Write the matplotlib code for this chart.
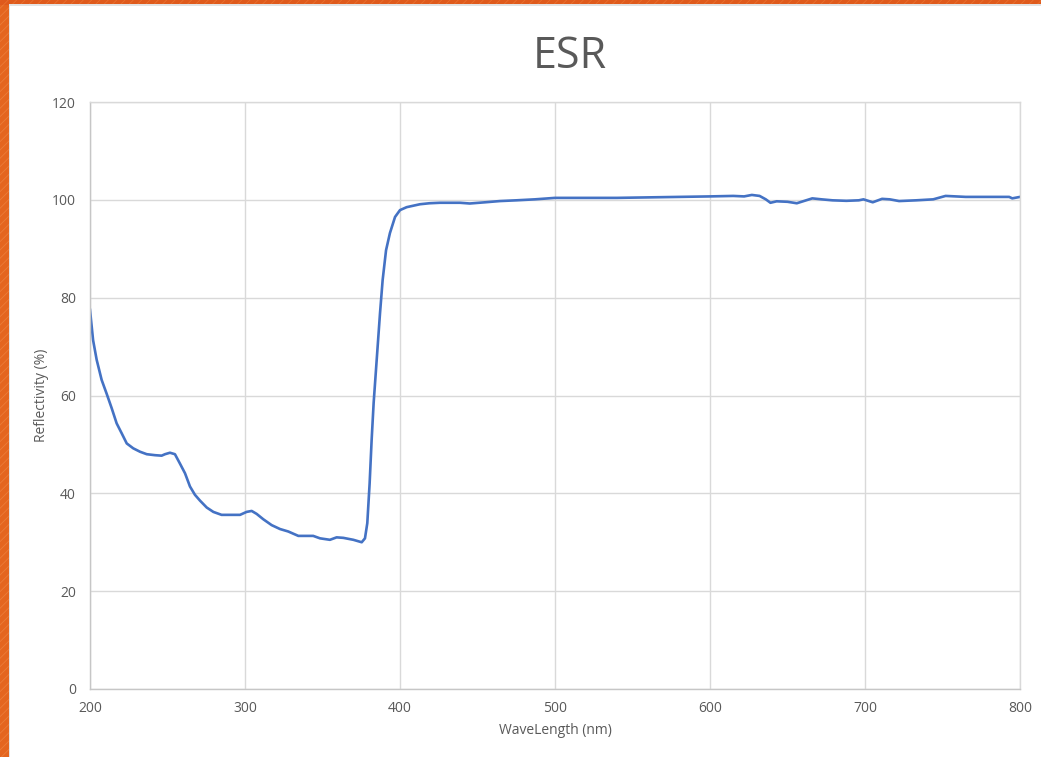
import matplotlib
matplotlib.use("Agg")
import matplotlib.pyplot as plt
from matplotlib.patches import Rectangle

# ---- data ----
wavelength = [200, 202, 204.3, 207.5, 210.7, 214, 217.2, 220.4, 223.7, 227.9,
              232.3, 236.6, 241.9, 246.2, 248.4, 251.6, 254.8, 258, 261.3, 264.5,
              267.7, 271, 275.3, 279.6, 284.9, 290.3, 296.8, 301, 304.3, 307.5,
              311.8, 317.2, 322.6, 327.9, 334.4, 344, 348.4, 354.8, 359.1, 363.4,
              369.9, 375.3, 377.4, 378.9, 380.4, 381.7, 383.0, 384.9, 387.1, 388.8,
              391, 393.5, 396.8, 400, 404.3, 412.9, 419, 425.8, 438.7, 445,
              455, 464.5, 475, 487, 500, 520, 540, 560, 580, 600,
              615, 622, 627, 632, 636, 639, 643, 650, 656, 660,
              666, 672, 679, 688, 696, 699, 702, 705, 711, 716,
              722, 733, 744, 752, 765, 780, 793, 795, 800]
reflectivity = [77.5, 71.3, 67.3, 63.2, 60.4, 57.4, 54.3, 52.3, 50.2, 49.2,
                48.5, 48.0, 47.8, 47.7, 48.0, 48.3, 48.0, 46.1, 44.1, 41.4,
                39.7, 38.5, 37.1, 36.2, 35.6, 35.6, 35.6, 36.2, 36.4, 35.8,
                34.7, 33.5, 32.7, 32.2, 31.3, 31.3, 30.8, 30.5, 31.0, 30.9,
                30.5, 30.0, 30.8, 33.9, 42.0, 50.9, 58.5, 67.0, 76.8, 83.6,
                89.7, 93.2, 96.5, 97.9, 98.5, 99.1, 99.3, 99.4, 99.4, 99.25,
                99.5, 99.75, 99.9, 100.1, 100.4, 100.4, 100.4, 100.5, 100.6, 100.7,
                100.8, 100.7, 101.0, 100.8, 100.1, 99.4, 99.7, 99.6, 99.3, 99.7,
                100.3, 100.1, 99.9, 99.8, 99.9, 100.1, 99.8, 99.5, 100.2, 100.1,
                99.75, 99.9, 100.1, 100.8, 100.6, 100.6, 100.6, 100.3, 100.6]
x_ticks = [200, 300, 400, 500, 600, 700, 800]
y_ticks = [0, 20, 40, 60, 80, 100, 120]
title = "ESR"
x_label = "WaveLength (nm)"
y_label = "Reflectivity (%)"

plt.rcParams['font.family'] = ['Open Sans', 'DejaVu Sans']
plt.rcParams['hatch.linewidth'] = 0.6

W, H = 1041, 757
fig = plt.figure(figsize=(W / 100, H / 100), dpi=100)
fig.patch.set_facecolor('white')

# orange frame (left and top)
fig.add_artist(Rectangle((0, 0), 8.5 / W, 1, transform=fig.transFigure,
                         facecolor='#e4651f', edgecolor='#ec7c38', hatch='////', lw=0))
fig.add_artist(Rectangle((0, 1 - 4.5 / H), 1, 4.5 / H, transform=fig.transFigure,
                         facecolor='#df5a1c', edgecolor='#e8702e', hatch='////', lw=0))
fig.add_artist(Rectangle((8.5 / W, 0), 1.2 / W, 1 - 4.5 / H, transform=fig.transFigure,
                         facecolor='#e3e3e3', lw=0))
fig.add_artist(Rectangle((8.5 / W, 1 - 6 / H), 1 - 8.5 / W, 1.5 / H, transform=fig.transFigure,
                         facecolor='#e3e3e3', lw=0))

ax = fig.add_axes([90 / W, (H - 689) / H, 930 / W, 587 / H])
ax.plot(wavelength, reflectivity, color='#4472c4', lw=1.9, solid_joinstyle='round')

ax.set_xlim(200, 800)
ax.set_ylim(0, 120)
ax.set_xticks(x_ticks)
ax.set_yticks(y_ticks)
ax.grid(True, color='#d9d9d9', lw=1.0)
ax.set_axisbelow(True)
for s in ['top', 'right']:
    ax.spines[s].set_color('#d9d9d9')
    ax.spines[s].set_linewidth(1.0)
for s in ['left', 'bottom']:
    ax.spines[s].set_color('#c6c6c6')
    ax.spines[s].set_linewidth(1.0)
ax.tick_params(length=0, labelsize=10, labelcolor='#595959')
ax.tick_params(axis='y', pad=10)
ax.tick_params(axis='x', pad=9)

ax.set_xlabel(x_label, fontsize=10, color='#595959')
ax.set_ylabel(y_label, fontsize=10, color='#595959')
ax.xaxis.set_label_coords(0.5, -0.058)
ax.yaxis.set_label_coords(-0.044, 0.5)

fig.text(570 / W, 1 - 57 / H, title, fontsize=31, color='#595959',
         ha='center', va='center')

fig.savefig('out.png', dpi=100)
